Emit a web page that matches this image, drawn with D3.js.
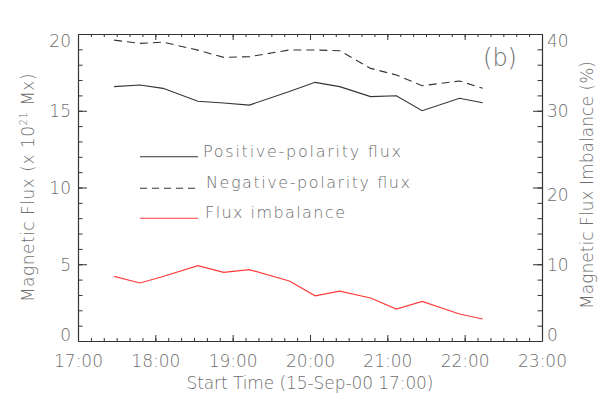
<!DOCTYPE html>
<html><head><meta charset="utf-8">
<script src="https://cdn.jsdelivr.net/npm/d3@7/dist/d3.min.js"></script>
<style>body{margin:0;background:#fff}text{font-family:"DejaVu Sans",sans-serif;font-weight:200;fill:#6e6e6e}</style>
</head><body><svg id="c" width="599" height="409"></svg>
<script>
// minutes after 17:00 on 15-Sep-00
const times = [28, 48, 66, 93, 113, 133, 164, 184, 203, 227, 247, 267, 296, 314];
const positiveFlux = [16.57, 16.68, 16.46, 15.62, 15.5, 15.37, 16.25, 16.85, 16.57, 15.92, 15.98, 15.0, 15.81, 15.52];
const negativeFlux = [19.6, 19.39, 19.47, 18.95, 18.48, 18.52, 18.96, 18.96, 18.91, 17.76, 17.33, 16.63, 16.94, 16.46];
const imbalance = [8.43, 7.56, 8.4, 9.81, 8.95, 9.29, 7.82, 5.88, 6.49, 5.6, 4.17, 5.17, 3.52, 2.87];
const xTickValues = [0, 60, 120, 180, 240, 300, 360];
const xTickLabels = ["17:00", "18:00", "19:00", "20:00", "21:00", "22:00", "23:00"];
const leftTicks = [0, 5, 10, 15, 20];
const rightTicks = [0, 10, 20, 30, 40];
const legendLabels = ["Positive-polarity flux", "Negative-polarity flux", "Flux imbalance"];

const svg = d3.select("#c");
const L = 78, R = 542, T = 34, B = 341;
const x = d3.scaleLinear().domain([0, 360]).range([L, R]);
const yL = d3.scaleLinear().domain([0, 20]).range([B, T]);
const yR = d3.scaleLinear().domain([0, 40]).range([B, T]);
const axisCol = "#333";

function style(g) {
  g.selectAll("path,line").attr("stroke", axisCol);
  g.selectAll("text").attr("fill", "#6e6e6e").attr("font-size", 17).style("font-family", '"DejaVu Sans",sans-serif');
}
// minor ticks
const minorX = d3.range(0, 361, 10);
svg.append("g").attr("transform", `translate(0,${B})`)
  .call(d3.axisBottom(x).tickValues(minorX).tickSize(-3).tickFormat("")).call(style).select(".domain").remove();
svg.append("g").attr("transform", `translate(0,${T})`)
  .call(d3.axisTop(x).tickValues(minorX).tickSize(-3).tickFormat("")).call(style).select(".domain").remove();
svg.append("g").attr("transform", `translate(${L},0)`)
  .call(d3.axisLeft(yL).tickValues(d3.range(0, 21, 1)).tickSize(-4.5).tickFormat("")).call(style).select(".domain").remove();
svg.append("g").attr("transform", `translate(${R},0)`)
  .call(d3.axisRight(yR).tickValues(d3.range(0, 41, 2)).tickSize(-4.5).tickFormat("")).call(style).select(".domain").remove();

// major axes
svg.append("g").attr("transform", `translate(0,${B})`)
  .call(d3.axisBottom(x).tickValues(xTickValues).tickSize(-6).tickSizeOuter(0).tickPadding(14)
    .tickFormat((d, i) => xTickLabels[i])).call(style);
svg.append("g").attr("transform", `translate(0,${T})`)
  .call(d3.axisTop(x).tickValues(xTickValues).tickSize(-6).tickSizeOuter(0).tickFormat("")).call(style);
const yl = svg.append("g").attr("transform", `translate(${L},0)`)
  .call(d3.axisLeft(yL).tickValues(leftTicks).tickSize(-9).tickSizeOuter(0).tickPadding(7)).call(style);
const yr = svg.append("g").attr("transform", `translate(${R},0)`)
  .call(d3.axisRight(yR).tickValues(rightTicks).tickSize(-9).tickSizeOuter(0).tickPadding(5)).call(style);
[yl, yr].forEach(g => {
  g.selectAll(".tick text").attr("dy", d => (d === 0 ? "-0.02em" : (d === 20 || d === 40) ? "0.75em" : "0.35em"));
});
svg.selectAll(".domain").attr("stroke", axisCol).attr("stroke-width", 1.2);

// lines
const lineL = (vals) => d3.line().x((d, i) => x(times[i])).y(d => yL(d))(vals);
const lineR = d3.line().x((d, i) => x(times[i])).y(d => yR(d));
svg.append("path").attr("d", lineL(positiveFlux)).attr("fill", "none").attr("stroke", "#333").attr("stroke-width", 1.1);
svg.append("path").attr("d", lineL(negativeFlux)).attr("fill", "none").attr("stroke", "#333").attr("stroke-width", 1.1).attr("stroke-dasharray", "8,5");
svg.append("path").attr("d", lineR(imbalance)).attr("fill", "none").attr("stroke", "#ff3b3b").attr("stroke-width", 1.2);

// legend
const legY = [156.7, 188.3, 218.3];
const legStroke = ["#333", "#333", "#ff3b3b"];
const legDash = [null, "7,5", null];
const legTextX = [203, 206, 205];
const legLen = [198, 204, 140];
legendLabels.forEach((t, i) => {
  svg.append("line").attr("x1", 140).attr("x2", 198).attr("y1", legY[i]).attr("y2", legY[i])
    .attr("stroke", legStroke[i]).attr("stroke-width", 1.1).attr("stroke-dasharray", legDash[i]);
  svg.append("text").attr("x", legTextX[i]).attr("y", legY[i]).attr("font-size", 16)
    .attr("textLength", legLen[i]).attr("lengthAdjust", "spacing").text(t);
});

// panel label
svg.append("text").attr("x", 500).attr("y", 66).attr("text-anchor", "middle").attr("font-size", 24).text("(b)");

// axis titles
svg.append("text").attr("x", 310).attr("y", 389).attr("text-anchor", "middle").attr("font-size", 17)
  .attr("textLength", 247).attr("lengthAdjust", "spacing").text("Start Time (15-Sep-00 17:00)");
const lt = svg.append("text").attr("transform", "translate(33.5,187.5) rotate(-90)").attr("text-anchor", "middle")
  .attr("font-size", 17).attr("letter-spacing", 0.5);
lt.append("tspan").text("Magnetic Flux (x 10");
lt.append("tspan").attr("font-size", 10).attr("dy", -7).text("21");
lt.append("tspan").attr("dy", 7).text(" Mx)");
svg.append("text").attr("transform", "translate(593,185) rotate(-90)").attr("text-anchor", "middle").attr("font-size", 17)
  .attr("textLength", 248).attr("lengthAdjust", "spacing").text("Magnetic Flux Imbalance (%)");
</script></body></html>
